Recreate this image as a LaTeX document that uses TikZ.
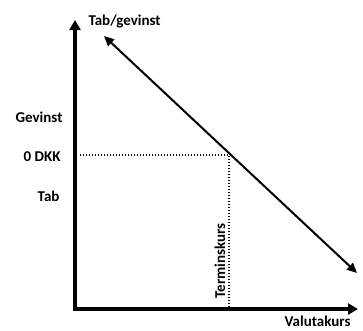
\documentclass[tikz,border=0pt]{standalone}
\usepackage{fontspec}
\setmainfont{Carlito}
\usetikzlibrary{arrows.meta}
\begin{document}
\begin{tikzpicture}[x=1pt,y=-1pt,
    font=\bfseries\fontsize{15}{18}\selectfont,
    axis/.style={line width=3.5pt,{Triangle[length=10pt,width=11pt]}-{Triangle[length=10pt,width=11pt]}},
    hedge/.style={line width=2pt,{Triangle[length=10pt,width=9pt]}-{Triangle[length=10pt,width=9pt]}},
    guide/.style={line width=1.4pt,dash pattern=on 1.4pt off 1.6pt}]
  \useasboundingbox (0,0) rectangle (363,330);
  \path
    (75,309) coordinate (o)
    (75,20) coordinate (ytop)
    (358,309) coordinate (xend)
    (104,36) coordinate (a)
    (357,273) coordinate (b)
    (229,155) coordinate (p)
    (80,155) coordinate (zero)
    (229,309) coordinate (foot);
  \draw
    (85,25) node[anchor=base west] (ylab){Tab/gevinst}
    (66,122) node[anchor=base east] (gain){Gevinst}
    (64,161) node[anchor=base east] (dkk){0 DKK}
    (63,201) node[anchor=base east] (loss){Tab}
    (225,302) node[anchor=base west,rotate=90] (term){Terminskurs}
    (354,326) node[anchor=base east,inner ysep=1pt] (xlab){Valutakurs};
  \begin{scope}[line join=miter]
    \draw[axis] (ytop) -- (o) -- (xend);
    \draw[hedge] (a) -- (b);
    \draw[guide] (zero) -- (p) -- (foot);
  \end{scope}
\end{tikzpicture}
\end{document}
